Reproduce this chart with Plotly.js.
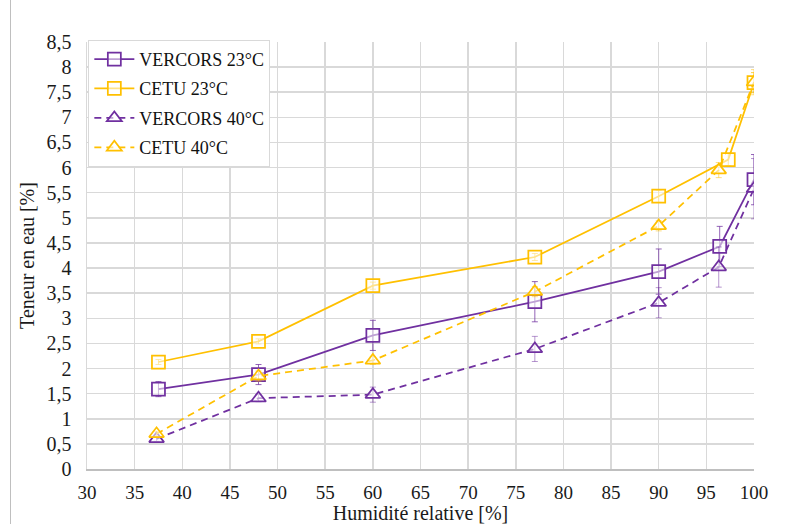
<!DOCTYPE html>
<html>
<head>
<meta charset="utf-8">
<script src="https://cdn.plot.ly/plotly-3.0.1.min.js"></script>
<style>
html,body{margin:0;padding:0;background:#fff;}
#chart{width:797px;height:524px;position:relative;}
#frame{position:absolute;left:10px;top:0;width:0;height:524px;border-left:1px solid #bfbfbf;}
</style>
</head>
<body>
<div id="chart"></div>
<div id="frame"></div>
<script>
const humVercors23 = [37.5, 48, 60, 77, 90, 96.4, 100];
const vercors23 = [1.59, 1.88, 2.66, 3.33, 3.93, 4.43, 5.76];
const errVercors23 = [0.15, 0.2, 0.3, 0.4, 0.45, 0.4, 0.5];

const humCetu23 = [37.5, 48, 60, 77, 90, 97.3, 100];
const cetu23 = [2.13, 2.54, 3.65, 4.22, 5.43, 6.16, 7.69];
const errCetu23 = [0.05, 0.05, 0.07, 0.07, 0.12, 0.12, 0.2];

const humVercors40 = [37.3, 48, 60, 77, 90, 96.3, 100];
const vercors40 = [0.6, 1.41, 1.48, 2.39, 3.31, 4.02, 5.58];
const errVercors40 = [0.05, 0.07, 0.15, 0.25, 0.3, 0.4, 0.6];

const humCetu40 = [37.3, 48, 60, 77, 90, 96.3, 100];
const cetu40 = [0.7, 1.85, 2.16, 3.53, 4.84, 5.95, 7.7];
const errCetu40 = [0.05, 0.1, 0.08, 0.1, 0.1, 0.15, 0.25];

const purple = '#7030A0';
const yellow = '#FFC000';
const purpleErr = 'rgba(112,48,160,0.75)';
const yellowErr = 'rgba(255,192,0,0.75)';
const purpleErrLight = 'rgba(112,48,160,0.5)';
const yellowErrLight = 'rgba(255,192,0,0.5)';

function tr(name, x, y, err, color, errColor, symbol, dash) {
  return {
    type: 'scatter', mode: 'lines+markers', name: name, x: x, y: y,
    legendgroup: name,
    line: {color: color, width: 1.75, dash: dash === 'dash' ? '7px,5px' : 'solid'},
    marker: {symbol: symbol, size: 13, color: 'rgba(255,255,255,0.55)', line: {color: color, width: 1.75}},
    error_y: {type: 'data', array: err, visible: true, color: errColor, thickness: 1, width: 3}
  };
}

const data = [
  tr('VERCORS 23°C', humVercors23, vercors23, errVercors23, purple, purpleErr, 'square', 'solid'),
  tr('CETU 23°C', humCetu23, cetu23, errCetu23, yellow, yellowErr, 'square', 'solid'),
  tr('VERCORS 40°C', humVercors40, vercors40, errVercors40, purple, purpleErrLight, 'triangle-up', 'dash'),
  tr('CETU 40°C', humCetu40, cetu40, errCetu40, yellow, yellowErrLight, 'triangle-up', 'dash')
];

const F = 'Liberation Serif';

const layout = {
  width: 797, height: 524,
  margin: {l: 87, r: 43, t: 42, b: 55},
  paper_bgcolor: '#fff', plot_bgcolor: '#fff',
  separators: ', ',
  font: {family: F, size: 19, color: '#1a1a1a'},
  showlegend: true,
  legend: {x: 0.002, y: 1.005, xanchor: 'left', yanchor: 'top', bgcolor: '#fff',
           bordercolor: '#d9d9d9', borderwidth: 1, font: {family: F, size: 18, color: '#111'},
           tracegroupgap: 3, itemwidth: 40},
  xaxis: {range: [30, 100], dtick: 5, tick0: 30, showgrid: true, gridcolor: '#d9d9d9',
          gridwidth: 1.5, zeroline: false, showline: true, linecolor: '#bfbfbf', linewidth: 1.5,
          ticks: '', tickfont: {family: F, size: 19}, mirror: false, ticklabelstandoff: 6,
          title: {text: 'Humidité relative [%]', font: {family: F, size: 20}, standoff: 2}},
  yaxis: {range: [0, 8.5], dtick: 0.5, tick0: 0, showgrid: true, gridcolor: '#d9d9d9',
          gridwidth: 1.5, zeroline: false, showline: true, linecolor: '#d9d9d9', linewidth: 1.5,
          ticks: '', tickfont: {family: F, size: 20}, ticklabelstandoff: 10,
          title: {text: 'Teneur en eau [%]', font: {family: F, size: 20}, standoff: 6}}
};

Plotly.newPlot('chart', data, layout, {displayModeBar: false, staticPlot: true});
</script>
</body>
</html>
